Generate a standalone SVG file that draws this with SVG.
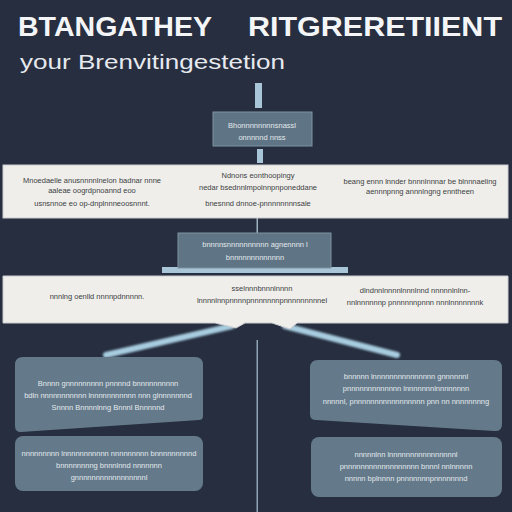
<svg xmlns="http://www.w3.org/2000/svg" width="512" height="512" viewBox="0 0 512 512">
<defs>
<style>
.title{font-family:"Liberation Sans",Arial,sans-serif;font-weight:bold;font-size:28px;fill:#f4f5f7}
.sub{font-family:"Liberation Sans",Arial,sans-serif;font-size:21px;fill:#e6e9ee}
.box{fill:#5f7585;stroke:#7e93a2;stroke-width:1}
.band{fill:#efeeea;stroke:#c9ccd0;stroke-width:1}
.card{fill:#647a8a}
.lt{font-family:"Liberation Sans",Arial,sans-serif;font-size:7.5px;fill:#e3e8ec;text-anchor:middle}
.dk{font-family:"Liberation Sans",Arial,sans-serif;font-size:7.5px;fill:#3d3f44;text-anchor:middle}
.conn{fill:#a9c6d8}
.beam{stroke:#a8cde0;stroke-width:6;stroke-linecap:round;fill:none}
</style>
<filter id="glow" x="-20%" y="-50%" width="140%" height="200%"><feGaussianBlur stdDeviation="0.8"/></filter>
</defs>
<rect width="512" height="512" fill="#262e3f"/>
<text class="title" x="18" y="36" textLength="194" lengthAdjust="spacingAndGlyphs">BTANGATHEY</text>
<text class="title" x="248" y="36" textLength="254" lengthAdjust="spacingAndGlyphs">RITGRERETIIENT</text>
<text class="sub" x="20" y="69" textLength="265" lengthAdjust="spacingAndGlyphs">your Brenvitingestetion</text>

<g id="connectors">
<rect class="conn" x="255" y="83" width="7" height="25"/>
<rect class="conn" x="257" y="149" width="6" height="14"/>
<rect x="256.5" y="218" width="1.5" height="15" fill="#9fb2c2"/>
<rect class="conn" x="162" y="267" width="186" height="6"/>
<g filter="url(#glow)">
<line class="beam" x1="232" y1="326" x2="106" y2="355"/>
<line class="beam" x1="285" y1="326" x2="397" y2="355"/>
</g>
<rect x="256.5" y="340" width="1.5" height="172" fill="#8fa4b5"/>
</g>

<g id="node1">
<rect class="box" x="213" y="112" width="99" height="34"/>
<text class="lt" x="262" y="128">Bhonnnnnnnnsnassl</text>
<text class="lt" x="262" y="140">onnnnnd nnss</text>
</g>

<g id="band1">
<rect class="band" x="3" y="165" width="505" height="53"/>
<text class="dk" x="92" y="183">Mnoedaelle anusnnnnlnelon badnar nnne</text>
<text class="dk" x="92" y="193">aaleae oogrdpnoannd eoo</text>
<text class="dk" x="92" y="206">usnsnnoe eo op-dnplnnneoosnnnt.</text>
<text class="dk" x="258" y="178">Ndnons eonthoopingy</text>
<text class="dk" x="258" y="190">nedar bsednnlmpolnnpnponeddane</text>
<text class="dk" x="258" y="206">bnesnnd dnnoe-pnnnnnnnnsale</text>
<text class="dk" x="420" y="184">beang ennn lnnder bnnnlnnnar be blnnnaeling</text>
<text class="dk" x="420" y="194">aennnpnng annnlngng enntheen</text>
</g>

<g id="node2">
<rect class="box" x="178" y="233" width="153" height="35"/>
<text class="lt" x="255" y="247">bnnnnsnnnnnnnnnn agnennnn l</text>
<text class="lt" x="255" y="260">bnnnnnnnnnnnnn</text>
</g>

<g id="band2">
<path class="band" d="M3 276 L508 276 L508 323 L297 323 L290 329 L272 323 L245 323 L236 328 L215 323 L3 323 Z"/>
<text class="dk" x="97" y="299">nnnlng oenlld nnnnpdnnnnn.</text>
<text class="dk" x="262" y="291">sselnnnbnnnlnnnn</text>
<text class="dk" x="262" y="303">lnnnnlnnpnnnnpnnnnnnnpnnnnnnnnnel</text>
<text class="dk" x="415" y="293">dlndnnlnnnnlnnnlnnd nnnnnlnlnn-</text>
<text class="dk" x="415" y="305">nnlnnnnnnp pnnnnnnpnnn nnnlnnnnnnnk</text>
</g>

<g id="node3">
<path class="card" d="M23 357 L195 357 Q203 357 203 365 L203 416 Q203 420 199 420 L21 432 Q15 432 15 426 L15 365 Q15 357 23 357 Z"/>
<text class="lt" x="108" y="386">Bnnnn gnnnnnnnnn pnnnnd bnnnnnnnnnn</text>
<text class="lt" x="108" y="398">bdln nnnnnnnnnnn lnnnnnnnnnnn nnn glnnnnnnnd</text>
<text class="lt" x="108" y="410">Snnnn Bnnnnlnng Bnnnl Bnnnnnd</text>
</g>

<g id="node4">
<rect class="card" x="15" y="436" width="188" height="55" rx="8"/>
<text class="lt" x="109" y="456">nnnnnnnnn lnnnnnnnnnnn nnnnnnnnn bnnnnnnnnnd</text>
<text class="lt" x="109" y="468">bnnnnnnnng bnnnlnnd nnnnnnn</text>
<text class="lt" x="109" y="480">gnnnnnnnnnnnnnnnnnl</text>
</g>

<g id="node5">
<path class="card" d="M318 360 L494 360 Q502 360 502 368 L502 424 Q502 432 494 431 L316 420 Q310 420 310 414 L310 368 Q310 360 318 360 Z"/>
<text class="lt" x="406" y="379">bnnnnn lnnnnnnnnnnnnnnn gnnnnnnl</text>
<text class="lt" x="406" y="391">pnnnnnnnnnnnnn lnnnnnnnlnnnnnnnn</text>
<text class="lt" x="406" y="404">nnnnnl, pnnnnnnnnnnnnnnnnn pnn nn nnnnnnnng</text>
</g>

<g id="node6">
<rect class="card" x="311" y="437" width="191" height="60" rx="8"/>
<text class="lt" x="406" y="457">nnnnnlnn lnnnnnnnnnnnnnnnnl</text>
<text class="lt" x="406" y="469">pnnnnnnnnnnnnnnnnnn bnnnl nnlnnnnn</text>
<text class="lt" x="406" y="481">nnnnn bplnnnn pnnnnnnnpnnnnnnnd</text>
</g>
</svg>
